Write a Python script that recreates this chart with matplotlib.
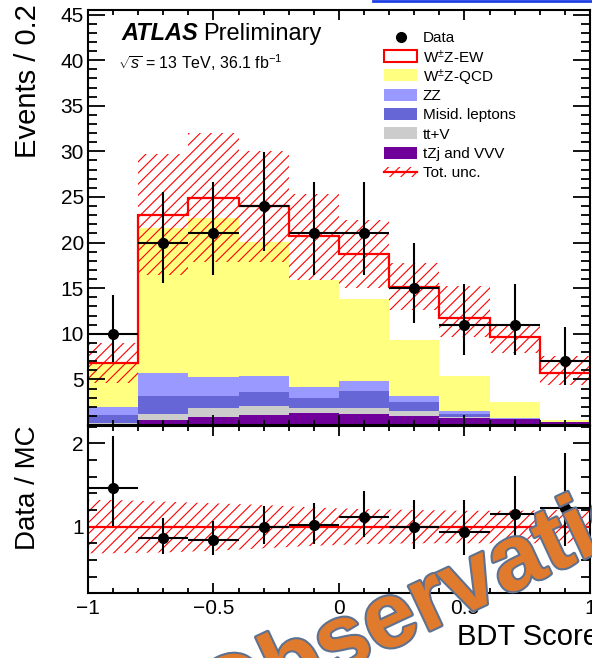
import numpy as np
import matplotlib.pyplot as plt
import matplotlib.patheffects as pe
from matplotlib.patches import Rectangle
from matplotlib.lines import Line2D
from matplotlib.ticker import MultipleLocator

plt.rcParams['font.family'] = ['Liberation Sans', 'DejaVu Sans']
plt.rcParams['mathtext.fontset'] = 'custom'
plt.rcParams['mathtext.rm'] = 'Liberation Sans'
plt.rcParams['mathtext.it'] = 'Liberation Sans:italic'
plt.rcParams['hatch.linewidth'] = 0.8

# BDT score bins
bin_edges = np.array([-1.0, -0.8, -0.6, -0.4, -0.2, 0.0, 0.2, 0.4, 0.6, 0.8, 1.0])

# observed events and their (Poisson) errors
data = np.array([10, 20, 21, 24, 21, 21, 15, 11, 11, 7])
data_err_down = np.array([3.12, 4.44, 4.55, 4.87, 4.55, 4.55, 3.84, 3.28, 3.28, 2.60])
data_err_up = np.array([4.28, 5.56, 5.66, 5.95, 5.66, 5.66, 4.97, 4.43, 4.43, 3.78])

# stacked predictions, bottom to top
tzj_vvv = np.array([0.15, 0.54, 0.90, 1.09, 1.27, 1.16, 1.01, 0.79, 0.61, 0.28])
ttv = np.array([0.10, 0.65, 0.99, 1.02, 0.62, 0.73, 0.51, 0.11, 0.02, 0.01])
misid = np.array([0.85, 2.01, 1.31, 1.54, 1.03, 1.83, 1.03, 0.26, 0.05, 0.01])
zz = np.array([0.85, 2.46, 2.09, 1.75, 1.24, 1.10, 0.65, 0.40, 0.04, 0.01])
wz_qcd = np.array([4.85, 15.94, 17.37, 14.70, 11.74, 8.98, 6.10, 3.84, 1.78, 0.19])
wz_ew = np.array([0.05, 1.46, 2.20, 3.90, 4.80, 4.95, 5.86, 6.30, 7.10, 5.23])

# total uncertainty band (absolute)
unc_lo = np.array([4.63, 16.45, 17.9, 17.9, 15.9, 15.0, 12.6, 9.6, 7.85, 4.38])
unc_hi = np.array([8.95, 29.7, 32.0, 30.0, 25.3, 22.5, 17.8, 15.2, 10.85, 7.56])

# uncertainty band in the ratio panel
ratio_unc_lo = np.array([0.68, 0.69, 0.71, 0.74, 0.77, 0.79, 0.80, 0.80, 0.80, 0.80])
ratio_unc_hi = np.array([1.32, 1.30, 1.28, 1.26, 1.23, 1.21, 1.20, 1.19, 1.19, 1.20])

labels = ['tZj and VVV', 'tt+V', 'Misid. leptons', 'ZZ', r'W$^{\pm}$Z-QCD', r'W$^{\pm}$Z-EW']
colors = ['#6f0099', '#cccccc', '#6666d6', '#9999ff', '#ffff80', 'white']
components = [tzj_vvv, ttv, misid, zz, wz_qcd, wz_ew]

centers = (bin_edges[:-1] + bin_edges[1:]) / 2
half_w = (bin_edges[1:] - bin_edges[:-1]) / 2

W, H = 592, 658
fig = plt.figure(figsize=(W / 100, H / 100), dpi=100)
ax = fig.add_axes([0.1486, 0.3541, 0.8480, 0.6307])
rax = fig.add_axes([0.1486, 0.0983, 0.8480, 0.2547], sharex=ax)

# stack
bottom = np.zeros(len(centers))
for vals, col in zip(components, colors):
    ax.stairs(bottom + vals, bin_edges, baseline=bottom.copy(), fill=True,
              facecolor=col, edgecolor='none', linewidth=0)
    bottom = bottom + vals
total = bottom

ax.stairs(unc_hi, bin_edges, baseline=unc_lo, fill=True, facecolor='none',
          edgecolor='red', hatch='///', linewidth=0)
ax.stairs(total, bin_edges, baseline=None, color='red', linewidth=1.6)
ax.errorbar(centers, data, xerr=half_w, yerr=[data_err_down, data_err_up],
            fmt='o', color='black', markersize=7, elinewidth=1.5, capsize=0)

ax.set_xlim(-1, 1)
ax.set_ylim(0, 45.5)
ax.set_yticks(np.arange(5, 46, 5))
ax.yaxis.set_minor_locator(MultipleLocator(1))

# ratio panel
ratio = data / total
band_x = np.concatenate([[bin_edges[0]], centers, [bin_edges[-1]]])
band_lo = np.concatenate([[ratio_unc_lo[0]], ratio_unc_lo, [ratio_unc_lo[-1]]])
band_hi = np.concatenate([[ratio_unc_hi[0]], ratio_unc_hi, [ratio_unc_hi[-1]]])
rax.fill_between(band_x, band_lo, band_hi, facecolor='none', edgecolor='red',
                 hatch='///', linewidth=0)
rax.axhline(1, color='red', linewidth=1.6)
rax.errorbar(centers, ratio, xerr=half_w,
             yerr=[data_err_down / total, data_err_up / total],
             fmt='o', color='black', markersize=7, elinewidth=1.5, capsize=0)
rax.set_ylim(0.2, 2.21)
rax.yaxis.set_major_locator(MultipleLocator(1))
rax.yaxis.set_minor_locator(MultipleLocator(0.2))
rax.set_xticks([-1, -0.5, 0, 0.5, 1])
rax.set_xticklabels(['\u22121', '\u22120.5', '0', '0.5', '1'])
rax.xaxis.set_minor_locator(MultipleLocator(0.1))

for a in (ax, rax):
    for s in a.spines.values():
        s.set_linewidth(1.5)
    a.tick_params(which='both', direction='in', top=True, right=True, width=1.3,
                  labelsize=15)
    a.tick_params(axis='y', which='major', length=12, pad=3)
    a.tick_params(axis='y', which='minor', length=6.5)
    a.tick_params(axis='x', which='major', length=7, pad=4)
    a.tick_params(axis='x', which='minor', length=3.6)
ax.tick_params(labelbottom=False)

# axis titles
fig.text(0.047, 0.993, 'Events / 0.2', rotation=90, ha='center', va='top', fontsize=21)
fig.text(0.047, 0.354, 'Data / MC', rotation=90, ha='center', va='top', fontsize=20)
fig.text(1.012, 0.011, 'BDT Score', ha='right', va='bottom', fontsize=21)

# labels
fig.text(0.206, 0.949, 'ATLAS', fontsize=17, fontweight='bold', fontstyle='italic',
         va='center')
fig.text(0.343, 0.949, 'Preliminary', fontsize=17, va='center')
fig.text(0.199, 0.905, r'$\sqrt{s}$ = 13 TeV, 36.1 fb$^{-1}$', fontsize=11.5, va='center')

# legend, drawn row by row (pixel positions from the top-left corner)
leg_labels = ['Data', labels[5], labels[4], labels[3], labels[2], labels[1], labels[0],
              'Tot. unc.']
leg_colors = [None] + colors[::-1] + [None]
box_x0, box_w, box_h, text_x = 384, 33, 12, 423
for i, (lab, col) in enumerate(zip(leg_labels, leg_colors)):
    yc = 36.7 + 19.3 * i
    fy = 1 - yc / H
    if i == 0:
        fig.add_artist(Line2D([(box_x0 + box_w / 2) / W], [fy], marker='o',
                              color='black', markersize=7, linestyle='none'))
    elif i == 1:
        fig.add_artist(Rectangle((box_x0 / W, 1 - (yc + box_h / 2) / H), box_w / W,
                                 box_h / H, facecolor='white', edgecolor='red',
                                 linewidth=1.5, transform=fig.transFigure))
    elif i == len(leg_labels) - 1:
        fig.add_artist(Rectangle((box_x0 / W, 1 - (yc + 5) / H), box_w / W, 10 / H,
                                 facecolor='none', edgecolor='red', hatch='///',
                                 linewidth=0, transform=fig.transFigure))
        fig.add_artist(Line2D([box_x0 / W, (box_x0 + box_w) / W], [fy, fy],
                              color='red', linewidth=1.6))
    else:
        fig.add_artist(Rectangle((box_x0 / W, 1 - (yc + box_h / 2) / H), box_w / W,
                                 box_h / H, facecolor=col, edgecolor='none',
                                 transform=fig.transFigure))
    fig.text(text_x / W, fy, lab, fontsize=11, va='center_baseline', ha='left')

# watermark overlay and link underline seen on the source image
fig.text(0.360, -0.112, 'Observation', fontsize=67, fontweight='bold', color='#e07a2c',
         rotation=25, rotation_mode='anchor', ha='left', va='baseline',
         path_effects=[pe.Stroke(linewidth=3, foreground='#5e7190'), pe.Normal()])
fig.add_artist(Line2D([373 / W, 1], [0.998, 0.998], color='#1f3fe6', linewidth=2))

fig.savefig('out.png', dpi=100)
